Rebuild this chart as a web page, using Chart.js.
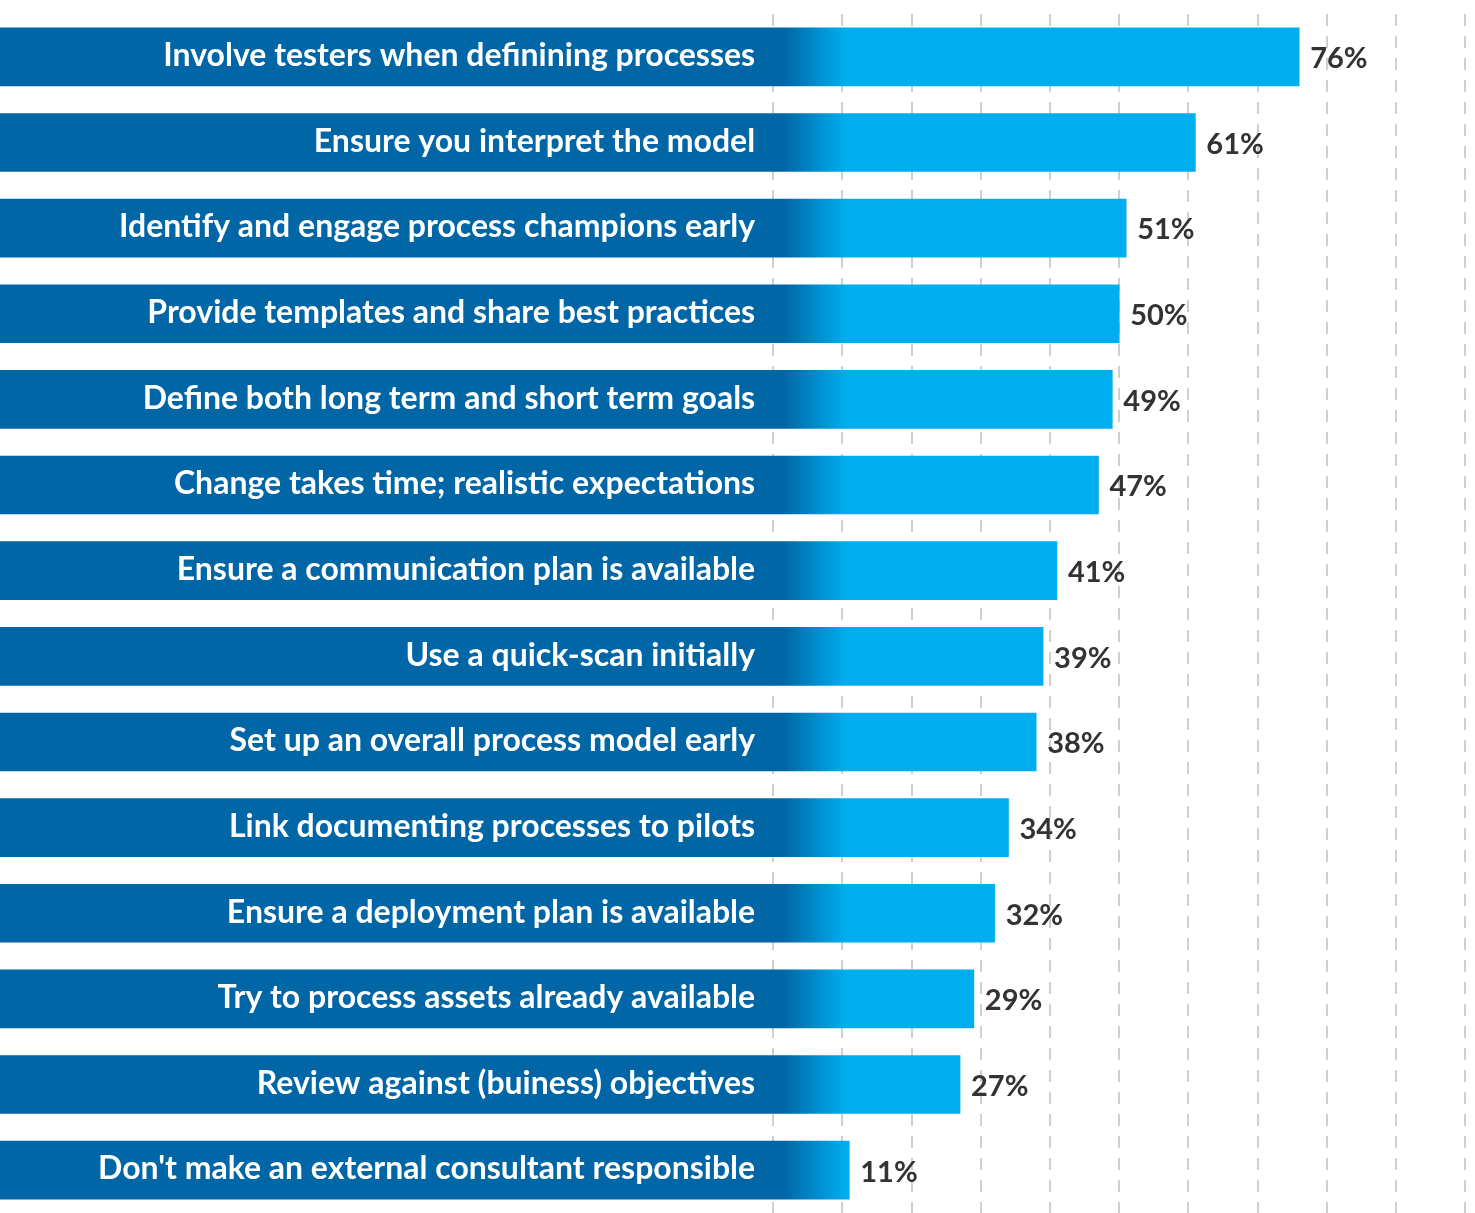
<!DOCTYPE html>
<html lang="en">
<head>
    <meta charset="UTF-8">
    <title>Process improvement tips</title>
    <script src="https://cdn.jsdelivr.net/npm/chart.js"></script>
    <style>
        body {
            margin: 0;
            background-color: #ffffff;
        }
        .chart-container {
            width: 1475px;
            height: 1213px;
            position: relative;
        }
    </style>
</head>
<body>
    <div class="chart-container">
        <canvas id="tipsChart"></canvas>
    </div>

    <script>
        const categories = [
            'Involve testers when definining processes',
            'Ensure you interpret the model',
            'Identify and engage process champions early',
            'Provide templates and share best practices',
            'Define both long term and short term goals',
            'Change takes time; realistic expectations',
            'Ensure a communication plan is available',
            'Use a quick-scan initially',
            'Set up an overall process model early',
            'Link documenting processes to pilots',
            'Ensure a deployment plan is available',
            'Try to process assets already available',
            'Review against (buiness) objectives',
            "Don't make an external consultant responsible"
        ];
        const percentages = [76, 61, 51, 50, 49, 47, 41, 39, 38, 34, 32, 29, 27, 11];
        const gridTicks = [0, 10, 20, 30, 40, 50, 60, 70, 80, 90, 100];

        const DARK_BLUE = '#0066a5';
        const CYAN = '#00aeef';
        // the label band left of 0% is part of each bar
        const BAND_START = -111.7;

        const labelPlugin = {
            id: 'barLabels',
            afterDatasetsDraw(chart) {
                const c = chart.ctx;
                const x = chart.scales.x;
                const y = chart.scales.y;
                c.save();
                c.textBaseline = 'middle';
                categories.forEach((cat, i) => {
                    const yy = y.getPixelForValue(i);
                    c.font = 'bold 32px Lato';
                    c.fillStyle = '#ffffff';
                    c.textAlign = 'right';
                    c.fillText(cat, x.getPixelForValue(0) - 18, yy - 1);
                    c.font = 'bold 29px Lato';
                    c.fillStyle = '#333333';
                    c.textAlign = 'left';
                    c.fillText(percentages[i] + '%', x.getPixelForValue(percentages[i]) + 11, yy + 2);
                });
                c.restore();
            }
        };

        const ctx = document.getElementById('tipsChart').getContext('2d');
        const tipsChart = new Chart(ctx, {
            type: 'bar',
            data: {
                labels: categories,
                datasets: [{
                    data: percentages,
                    base: BAND_START,
                    barThickness: 58,
                    borderWidth: 0,
                    backgroundColor: function(context) {
                        const chart = context.chart;
                        if (!chart.chartArea) return DARK_BLUE;
                        const sx = chart.scales.x;
                        const g = chart.ctx.createLinearGradient(sx.getPixelForValue(1.5), 0, sx.getPixelForValue(10.5), 0);
                        g.addColorStop(0, DARK_BLUE);
                        g.addColorStop(1, CYAN);
                        return g;
                    }
                }]
            },
            options: {
                indexAxis: 'y',
                responsive: true,
                maintainAspectRatio: false,
                animation: false,
                layout: {
                    padding: { top: 14, bottom: 0, left: 0, right: 0 }
                },
                plugins: {
                    legend: { display: false },
                    tooltip: { enabled: false }
                },
                scales: {
                    x: {
                        min: BAND_START,
                        max: 101.4,
                        afterBuildTicks: function(axis) {
                            axis.ticks = gridTicks.map(v => ({ value: v }));
                        },
                        ticks: { display: false },
                        grid: {
                            color: '#cfcfcf',
                            lineWidth: 2,
                            drawTicks: false
                        },
                        border: { display: false, dash: [12, 10] }
                    },
                    y: {
                        display: false
                    }
                }
            },
            plugins: [labelPlugin]
        });
    </script>
</body>
</html>
